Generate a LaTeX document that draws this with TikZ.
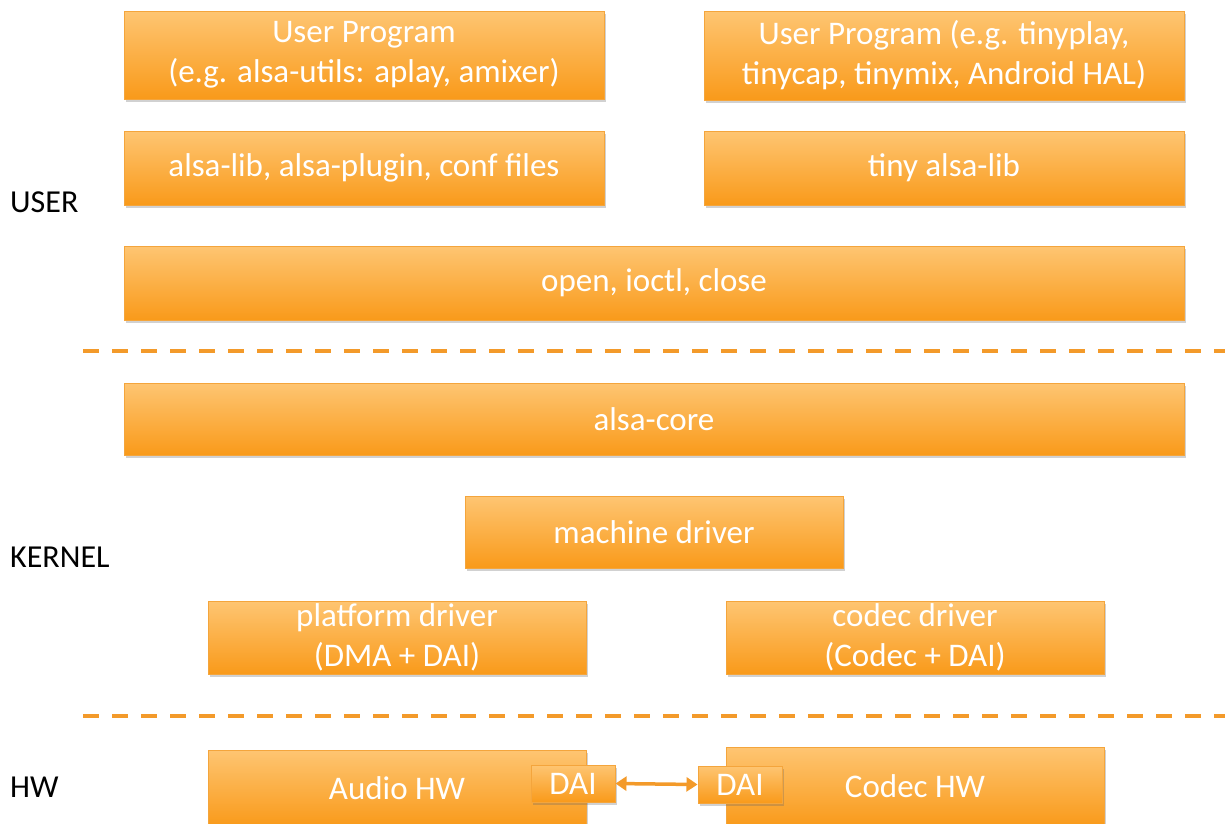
\documentclass[tikz,border=0pt]{standalone}
\usepackage{fontspec}
\setmainfont{Carlito}
\usetikzlibrary{shadows,arrows.meta}
\definecolor{otop}{HTML}{FEC572}
\definecolor{obot}{HTML}{F99A1A}
\definecolor{oline}{HTML}{F4A53C}
\definecolor{odash}{HTML}{F39A2A}
\tikzset{
  box/.style={draw=oline, line width=1pt, top color=otop, bottom color=obot,
    text=white, font=\fontsize{33}{40}\selectfont, align=center, inner sep=0pt,
    drop shadow={opacity=0.3, shadow xshift=2pt, shadow yshift=-3pt, fill=black!60}},
  lab/.style={font=\fontsize{32}{36}\selectfont, anchor=west, text=black, inner sep=0pt},
  sep/.style={draw=odash, line width=4.5pt, dash pattern=on 16pt off 13pt},
  dlink/.style={draw=odash, line width=3.5pt, {Triangle[length=11pt,width=14pt]}-{Triangle[length=11pt,width=14pt]}}
}
\begin{document}
\begin{tikzpicture}[x=1pt,y=-1pt]
\useasboundingbox (0,0) rectangle (1225,823);
\clip (0,0) rectangle (1225,823);
% user space
\node[box, minimum width=480pt, minimum height=88pt] (up1) at (364,55) {User Program\\(e.g. alsa-utils: aplay, amixer)};
\node[box, minimum width=480pt, minimum height=89pt] (up2) at (944,55.5) {User Program (e.g. tinyplay,\\tinycap, tinymix, Android HAL)};
\node[box, minimum width=480pt, minimum height=74pt] (lib1) at (364,168) {alsa-lib, alsa-plugin, conf files};
\node[box, minimum width=480pt, minimum height=74pt] (lib2) at (944,168) {tiny alsa-lib};
\node[box, minimum width=1060pt, minimum height=74pt] (sys) at (654,283) {open, ioctl, close};
% separator 1
\coordinate (s1a) at (83,351);
\coordinate (s1b) at (1240,351);
\draw[sep] (s1a) -- (s1b);
% kernel
\node[box, minimum width=1060pt, minimum height=72pt] (core) at (654,419) {alsa-core};
\node[box, minimum width=378pt, minimum height=72pt] (mach) at (654,532) {machine driver};
\node[box, minimum width=378pt, minimum height=73pt] (plat) at (397,637.5) {platform driver\\(DMA + DAI)};
\node[box, minimum width=378pt, minimum height=73pt] (codec) at (915,637.5) {codec driver\\(Codec + DAI)};
% separator 2
\coordinate (s2a) at (83,716);
\coordinate (s2b) at (1240,716);
\draw[sep] (s2a) -- (s2b);
% hw
\node[box, minimum width=378pt, minimum height=76pt] (ahw) at (397,788) {Audio HW};
\node[box, minimum width=378pt, minimum height=79pt] (chw) at (915,786.5) {Codec HW};
\node[box, minimum width=84pt, minimum height=37pt] (dai1) at (573,783.5) {DAI};
\node[box, minimum width=84pt, minimum height=37pt] (dai2) at (740,784.5) {DAI};
\draw[dlink] (dai1.east) -- (dai2.west);
% labels
\node[lab] (luser) at (10,202) {USER};
\node[lab] (lkernel) at (10,557) {KERNEL};
\node[lab] (lhw) at (10,787) {HW};
\end{tikzpicture}
\end{document}
